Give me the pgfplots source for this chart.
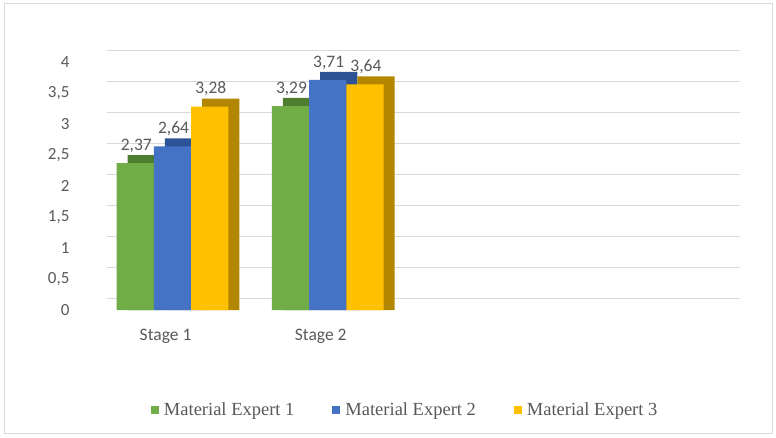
\documentclass[border=0pt]{standalone}
\usepackage{pgfplots}
\usepackage{pgfplotstable}
\pgfplotsset{compat=1.18}
\usepackage{fontspec}
\setmainfont{Carlito}
\newfontfamily\legendfont{Liberation Serif}
\definecolor{cgreen}{HTML}{70AD47}
\definecolor{cgreendk}{HTML}{4E7D30}
\definecolor{cblue}{HTML}{4472C4}
\definecolor{cbluedk}{HTML}{2D5296}
\definecolor{cyellow}{HTML}{FFC000}
\definecolor{cyellowdk}{HTML}{B38600}
\definecolor{labelgray}{HTML}{595959}
\definecolor{gridgray}{HTML}{D9D9D9}
\pgfplotstableread{
x e1 e2 e3
0 2.37 2.64 3.28
1 3.29 3.71 3.64
}\data
\begin{document}
\begin{tikzpicture}
\useasboundingbox (0,0) rectangle (776pt,437pt);
\draw[gridgray, line width=1pt] (4pt,4pt) rectangle (772pt,433pt);
\begin{axis}[
  at={(95pt,127pt)}, anchor=south west,
  scale only axis, width=633pt, height=248pt,
  xmin=-0.5, xmax=3.58, ymin=0, ymax=4,
  clip=false,
  ybar, bar width=0.24,
  axis line style={draw=none},
  major tick length=0pt,
  ytick={0,0.5,...,4},
  yticklabel style={/pgf/number format/use comma, /pgf/number format/assume math mode=true,
    font=\fontsize{17}{20}\selectfont, text=labelgray, xshift=-22pt},
  xtick={0,1}, xticklabels={Stage 1, Stage 2},
  xticklabel style={font=\fontsize{17.5}{20}\selectfont, text=labelgray, yshift=-16pt, xshift=-7pt},
  ymajorgrids,
  grid style={gridgray, line width=0.9pt, xshift=12pt, yshift=12pt},
  legend style={at={(0.49,-0.403)}, anchor=center, legend columns=3, draw=none,
    font=\legendfont\fontsize{18.5}{21}\selectfont, text=labelgray,
    /tikz/every even column/.append style={column sep=36pt},
    /tikz/every odd column/.append style={column sep=3pt}},
  every node near coord/.append style={font=\fontsize{17.5}{20}\selectfont, text=labelgray, yshift=7pt, xshift=1pt},
  nodes near coords={\pgfmathprintnumber[use comma,fixed,fixed zerofill,precision=2,assume math mode=true]{\pgfplotspointmeta}},
]
% depth (3D) faces
\addplot[fill=cgreendk, draw=none, bar shift=-0.169, forget plot, nodes near coords={}] table[x=x, y expr=\thisrow{e1}+0.13]{\data};
\addplot[fill=cbluedk, draw=none, bar shift=0.071, forget plot, nodes near coords={}] table[x=x, y expr=\thisrow{e2}+0.13]{\data};
\addplot[fill=cyellowdk, draw=none, bar shift=0.311, forget plot, nodes near coords={}] table[x=x, y expr=\thisrow{e3}+0.13]{\data};
% front faces
\addplot[fill=cgreen, draw=none, bar shift=-0.24,
  legend image code/.code={\fill[cgreen] (0pt,-4pt) rectangle (8pt,4pt);}] table[x=x, y=e1]{\data};
\addplot[fill=cblue, draw=none, bar shift=0,
  legend image code/.code={\fill[cblue] (0pt,-4pt) rectangle (8pt,4pt);}] table[x=x, y=e2]{\data};
\addplot[fill=cyellow, draw=none, bar shift=0.24,
  legend image code/.code={\fill[cyellow] (0pt,-4pt) rectangle (8pt,4pt);}] table[x=x, y=e3]{\data};
\legend{Material Expert 1, Material Expert 2, Material Expert 3}
\end{axis}
\end{tikzpicture}
\end{document}
